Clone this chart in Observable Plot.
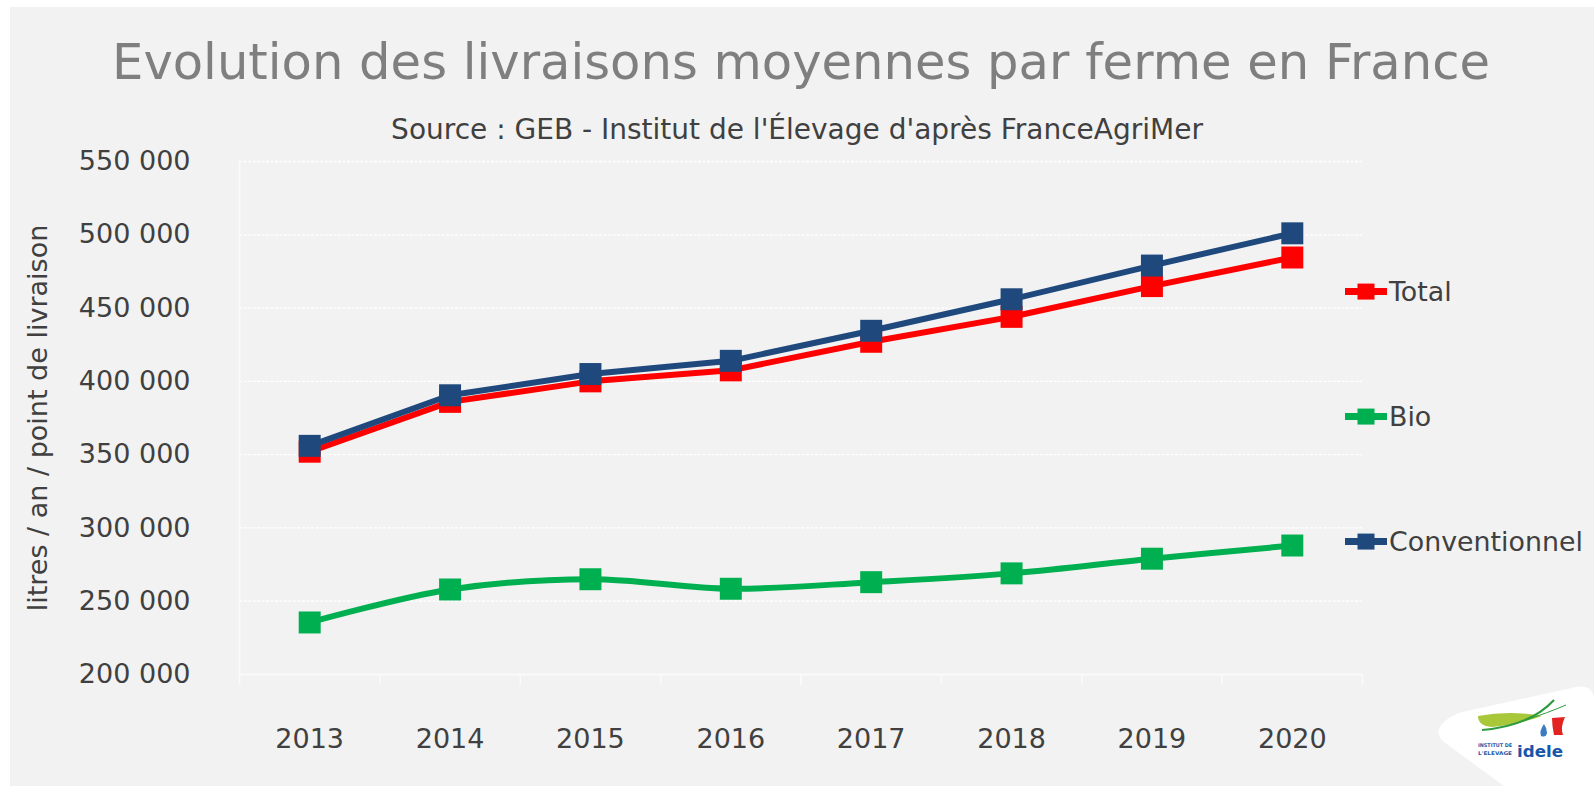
<!DOCTYPE html>
<html><head><meta charset="utf-8">
<script src="https://cdn.jsdelivr.net/npm/d3@7"></script>
<script src="https://cdn.jsdelivr.net/npm/@observablehq/plot@0.6"></script>
<style>
html,body{margin:0;padding:0;background:#fff;width:1594px;height:786px;overflow:hidden;font-family:"DejaVu Sans",sans-serif;}
#panel{position:absolute;left:10px;top:7px;width:1584px;height:779px;background:#f2f2f2;}
.t{position:absolute;white-space:nowrap;transform:translate(-50%,-50%);line-height:1;}
#chart{position:absolute;left:0;top:145px;}
.leg{position:absolute;left:1345px;display:flex;align-items:center;transform:translateY(-50%);color:#404040;white-space:nowrap;line-height:1;}
.leg svg{display:block;margin-right:2px;}
#logo{position:absolute;left:1400px;top:660px;}
</style></head><body>
<div id="panel"></div>
<div id="title" class="t" style="left:801px;top:63px;color:#7f7f7f"></div>
<div id="subtitle" class="t" style="left:797px;top:130px;color:#404040"></div>
<div id="chart"></div>
<div id="legend"></div>
<svg id="logo" width="194" height="126" viewBox="0 0 194 126">
  <path d="M 42 64 Q 34 73 44 82 L 104 126 L 194 126 L 194 38 Q 192 24 176 27 L 62 52 Q 49 56 42 64 Z" fill="#ffffff"/>
  <path d="M 78 56 Q 110 50 142 56 Q 120 64 92 67 Q 78 66 78 56 Z" fill="#a8c83a"/>
  <path d="M 82 70 Q 130 66 154 40" fill="none" stroke="#2e9c3e" stroke-width="2.2"/>
  <path d="M 120 62 Q 150 52 166 45" fill="none" stroke="#2e9c3e" stroke-width="1"/>
  <path d="M 152 58 L 165 57 Q 160 68 163 75 L 154 75 Q 152 66 152 58 Z" fill="#e32322"/>
  <path d="M 144 64 Q 139 71 141 76 Q 146 78 147 73 Q 147 68 144 64 Z" fill="#3a7cc2"/>
  <text x="78" y="87" font-family="DejaVu Sans" font-weight="bold" font-size="5" textLength="34" lengthAdjust="spacingAndGlyphs" fill="#1f5aa6">INSTITUT DE</text>
  <text x="78" y="95" font-family="DejaVu Sans" font-weight="bold" font-size="5" textLength="34" lengthAdjust="spacingAndGlyphs" fill="#1f5aa6">L'ELEVAGE</text>
  <text x="117" y="97" font-family="DejaVu Sans" font-weight="bold" font-size="16" textLength="46" lengthAdjust="spacingAndGlyphs" fill="#1a56a8">idele</text>
</svg>
<script>
// ---- data ----
const years = [2013, 2014, 2015, 2016, 2017, 2018, 2019, 2020];
const seriesNames = ["Total", "Bio", "Conventionnel"];
const seriesColors = ["#ff0000", "#00b050", "#1f497d"];
const totalValues = [352000, 386000, 400000, 407500, 427000, 444000, 465000, 484500];
const bioValues = [235500, 258000, 265000, 258500, 263000, 269000, 279000, 288000];
const convValues = [356000, 390500, 405000, 414000, 434500, 456000, 479000, 501000];
const yTicks = [200000, 250000, 300000, 350000, 400000, 450000, 500000, 550000];
const titleText = "Evolution des livraisons moyennes par ferme en France";
const subtitleText = "Source : GEB - Institut de l'Élevage d'après FranceAgriMer";
const yTitle = "litres / an / point de livraison";

const FONT = "DejaVu Sans";
function fitSize(text, targetWidth) {
  const ctx = document.createElement("canvas").getContext("2d");
  ctx.font = `100px "${FONT}"`;
  return 100 * targetWidth / ctx.measureText(text).width;
}

const titleEl = document.getElementById("title");
titleEl.textContent = titleText;
titleEl.style.fontSize = Math.min(fitSize(titleText, 1378), 54) + "px";
const subEl = document.getElementById("subtitle");
subEl.textContent = subtitleText;
subEl.style.fontSize = Math.min(fitSize(subtitleText, 820), 28) + "px";

const seriesValues = [totalValues, bioValues, convValues];
const curves = ["linear", "catmull-rom", "linear"];
const tables = seriesValues.map((vals, s) => years.map((yr, i) => ({year: yr, value: vals[i], series: seriesNames[s]})));

const fmt = d => d3.format(",")(d).replace(/,/g, " ");
const sepTicks = [...years.map(y => y - 0.5), years[years.length - 1] + 0.5];

const seriesMarks = [];
tables.forEach((rows, s) => {
  seriesMarks.push(Plot.line(rows, {x: "year", y: "value", stroke: seriesColors[s], strokeWidth: 6, curve: curves[s]}));
  seriesMarks.push(Plot.dot(rows, {x: "year", y: "value", symbol: "square", r: 12.4, fill: seriesColors[s]}));
});

const chart = Plot.plot({
  width: 1594, height: 641,
  marginLeft: 239, marginRight: 232, marginTop: 16, marginBottom: 112,
  style: {background: "transparent", fontFamily: `"${FONT}", sans-serif`, overflow: "visible"},
  x: {type: "linear", domain: [sepTicks[0], sepTicks[sepTicks.length - 1]]},
  y: {domain: [yTicks[0], yTicks[yTicks.length - 1]]},
  marks: [
    Plot.ruleY(yTicks.slice(1), {stroke: "#ffffff", strokeWidth: 1.3, strokeDasharray: "3,1.5"}),
    Plot.ruleX([sepTicks[0]], {stroke: "#fafafa", strokeWidth: 1.6}),
    Plot.ruleY([yTicks[0]], {stroke: "#fafafa", strokeWidth: 2}),
    Plot.axisX({ticks: sepTicks, tickSize: 11, tickFormat: () => "", stroke: "#fafafa", strokeWidth: 1.6, label: null}),
    Plot.axisX({ticks: years, tickSize: 0, tickPadding: 54, tickFormat: d => String(d), fontSize: 27, fill: "#404040", label: null}),
    Plot.axisY({ticks: yTicks, tickSize: 0, tickPadding: 49, tickFormat: fmt, fontSize: 27, fill: "#404040",
      label: yTitle, labelAnchor: "center", labelOffset: 212, labelArrow: "none"}),
    ...seriesMarks
  ]
});
document.getElementById("chart").appendChild(chart);

// legend
const legendTops = [292, 417, 542];
const legSize = Math.min(fitSize("Conventionnel", 194), 27);
const legend = document.getElementById("legend");
seriesNames.forEach((name, s) => {
  const d = document.createElement("div");
  d.className = "leg";
  d.style.top = legendTops[s] + "px";
  d.style.fontSize = legSize + "px";
  d.innerHTML = `<svg width="42" height="20"><line x1="0" x2="42" y1="10" y2="10" stroke="${seriesColors[s]}" stroke-width="7"/><rect x="12.5" y="2" width="17" height="16" fill="${seriesColors[s]}"/></svg><span>${name}</span>`;
  legend.appendChild(d);
});
</script>
</body></html>
